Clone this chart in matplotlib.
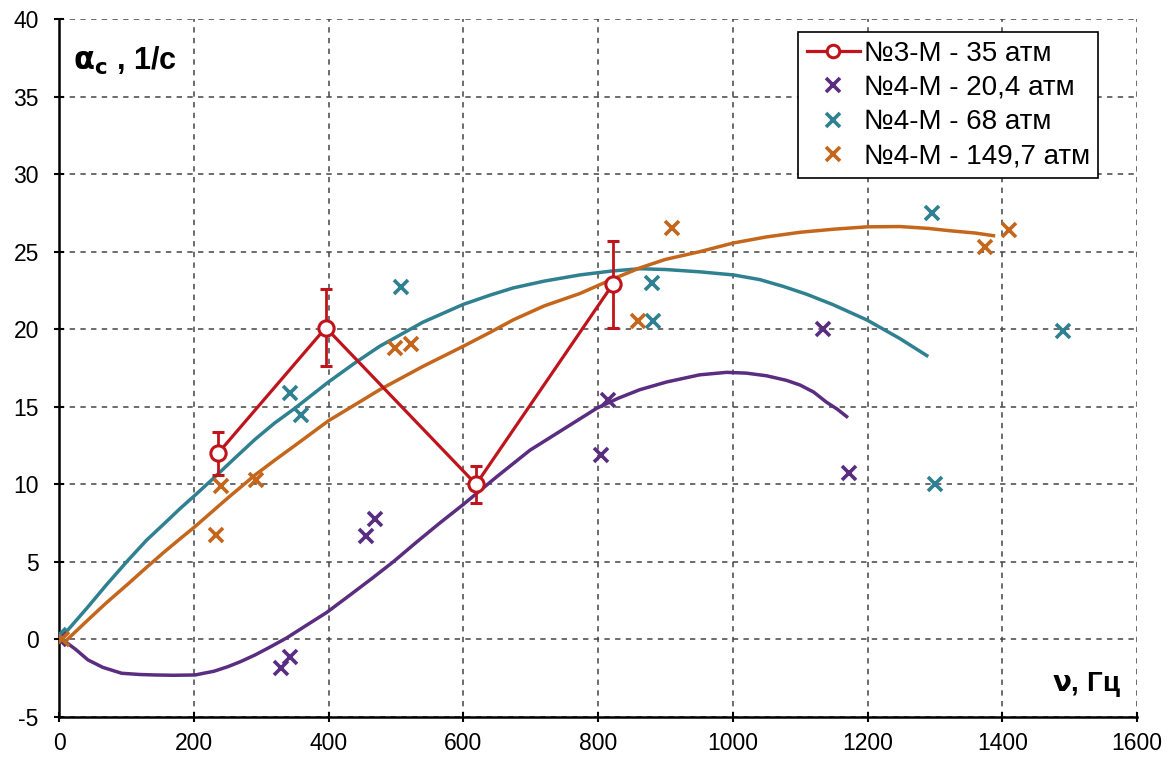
import matplotlib
matplotlib.use("Agg")
import matplotlib.pyplot as plt
from matplotlib.lines import Line2D

plt.rcParams['font.family'] = ['Liberation Sans', 'DejaVu Sans']
plt.rcParams['axes.unicode_minus'] = False

# ---- data ----
s3_x = [236, 396, 619, 822]
s3_y = [12.0, 20.1, 10.0, 22.9]
s3_err = [1.4, 2.5, 1.2, 2.8]

p_x = [0, 329, 343, 456, 469, 805, 815, 1134, 1172]
p_y = [0.0, -1.87, -1.13, 6.68, 7.77, 11.9, 15.45, 20.0, 10.7]

t_x = [0, 343, 359, 508, 880, 881, 1295, 1300, 1490]
t_y = [0.3, 15.9, 14.5, 22.7, 23.0, 20.5, 27.5, 10.0, 19.86]

o_x = [5, 233, 240, 292, 499, 522, 860, 910, 1375, 1410]
o_y = [0.0, 6.74, 9.9, 10.3, 18.8, 19.06, 20.5, 26.5, 25.3, 26.4]

# trend curves
pc_x = [5, 25, 43, 65, 93, 120, 142, 170, 202, 230, 251, 270, 291, 315, 338, 365,
        397, 430, 465, 496, 530, 565, 600, 650, 699, 743, 798, 830, 862, 902, 951,
        991, 1020, 1050, 1080, 1100, 1120, 1139, 1155, 1169]
pc_y = [0.0, -0.65, -1.32, -1.8, -2.18, -2.26, -2.29, -2.31, -2.29, -2.05, -1.75,
        -1.42, -1.0, -0.45, 0.1, 0.85, 1.73, 2.8, 3.95, 5.0, 6.25, 7.5, 8.7,
        10.5, 12.2, 13.4, 14.9, 15.55, 16.1, 16.6, 17.06, 17.22, 17.17, 17.0,
        16.7, 16.4, 15.95, 15.3, 14.85, 14.37]
tc_x = [5, 43, 70, 103, 130, 157, 180, 202, 227, 260, 291, 320, 350, 400, 440, 476,
        540, 600, 640, 674, 720, 773, 820, 862, 900, 951, 1001, 1040, 1075, 1110,
        1149, 1199, 1248, 1288]
tc_y = [0.2, 2.1, 3.5, 5.13, 6.4, 7.5, 8.45, 9.3, 10.3, 11.65, 12.9, 13.95, 14.9,
        16.6, 17.85, 18.9, 20.45, 21.6, 22.2, 22.66, 23.1, 23.5, 23.75, 23.9,
        23.85, 23.7, 23.5, 23.2, 22.76, 22.25, 21.58, 20.6, 19.4, 18.3]
oc_x = [9, 43, 70, 103, 130, 157, 180, 202, 250, 291, 320, 350, 400, 440, 476, 540,
        600, 640, 674, 720, 773, 820, 862, 900, 951, 1001, 1050, 1100, 1150, 1199,
        1248, 1290, 1322, 1360, 1387]
oc_y = [-0.14, 1.26, 2.35, 3.6, 4.65, 5.67, 6.5, 7.28, 9.1, 10.6, 11.55, 12.5,
        14.1, 15.15, 16.1, 17.6, 18.9, 19.8, 20.6, 21.5, 22.3, 23.2, 23.95, 24.5,
        25.0, 25.56, 25.95, 26.25, 26.45, 26.6, 26.62, 26.5, 26.35, 26.2, 26.03]

x_ticks = [0, 200, 400, 600, 800, 1000, 1200, 1400, 1600]
y_ticks = [-5, 0, 5, 10, 15, 20, 25, 30, 35, 40]

labels = ['№3-М - 35 атм', '№4-М - 20,4 атм', '№4-М - 68 атм', '№4-М - 149,7 атм']

RED = '#C0141C'
PURPLE = '#5A2D80'
TEAL = '#2F8090'
ORANGE = '#C4661B'

fig = plt.figure(figsize=(11.74, 7.6), dpi=100)
ax = fig.add_axes([59/1174, 1-717/760, (1137-59)/1174, (717-19)/760])

ax.set_xlim(0, 1600)
ax.set_ylim(-5, 40)
ax.set_xticks(x_ticks)
ax.set_yticks(y_ticks)
ax.grid(True, color='#444444', linestyle=(0, (3.5, 3.5)), linewidth=1.1)
ax.set_axisbelow(True)
for s in ['top', 'right']:
    ax.spines[s].set_visible(False)
for s in ['left', 'bottom']:
    ax.spines[s].set_linewidth(1.8)
ax.tick_params(direction='inout', length=7, width=1.5, labelsize=16.5)
ax.tick_params(axis='x', pad=7)
ax.tick_params(axis='y', pad=11)

# curves
ax.plot(pc_x, pc_y, color=PURPLE, lw=2.5, zorder=3, solid_joinstyle='round')
ax.plot(tc_x, tc_y, color=TEAL, lw=2.5, zorder=3, solid_joinstyle='round')
ax.plot(oc_x, oc_y, color=ORANGE, lw=2.5, zorder=3, solid_joinstyle='round')

# scatter
ax.plot(p_x, p_y, 'x', color=PURPLE, ms=10.5, mew=2.6, zorder=4)
ax.plot(t_x, t_y, 'x', color=TEAL, ms=10.5, mew=2.6, zorder=4)
ax.plot(o_x, o_y, 'x', color=ORANGE, ms=10.5, mew=2.6, zorder=4)

# red series
ax.errorbar(s3_x, s3_y, yerr=s3_err, color=RED, lw=2.3, elinewidth=2, capsize=4,
            capthick=2, marker='o', ms=11, mfc='white', mec=RED, mew=2.2,
            zorder=5)

handles = [
    Line2D([], [], color=RED, lw=2.3, marker='o', ms=9, mfc='white', mec=RED, mew=2.2),
    Line2D([], [], ls='none', marker='x', color=PURPLE, ms=10, mew=2.6),
    Line2D([], [], ls='none', marker='x', color=TEAL, ms=10, mew=2.6),
    Line2D([], [], ls='none', marker='x', color=ORANGE, ms=10, mew=2.6),
]
leg = ax.legend(handles, labels,
                loc='upper right', bbox_to_anchor=(0.964, 0.981), borderaxespad=0,
                fontsize=20, frameon=True, fancybox=False, edgecolor='black',
                framealpha=1, handlelength=1.9, handletextpad=0.15,
                labelspacing=0.3, borderpad=0.3, markerscale=1.0)
leg.get_frame().set_linewidth(1.2)

ax.text(0.013, 0.94, r'$\mathbf{\alpha_c}$ , 1/с', transform=ax.transAxes,
        fontsize=22, fontweight='bold', ha='left', va='center')
ax.text(0.985, 0.046, r'$\mathbf{\nu}$, Гц', transform=ax.transAxes,
        fontsize=20, fontweight='bold', ha='right', va='center')

fig.savefig('out.png', dpi=100)
